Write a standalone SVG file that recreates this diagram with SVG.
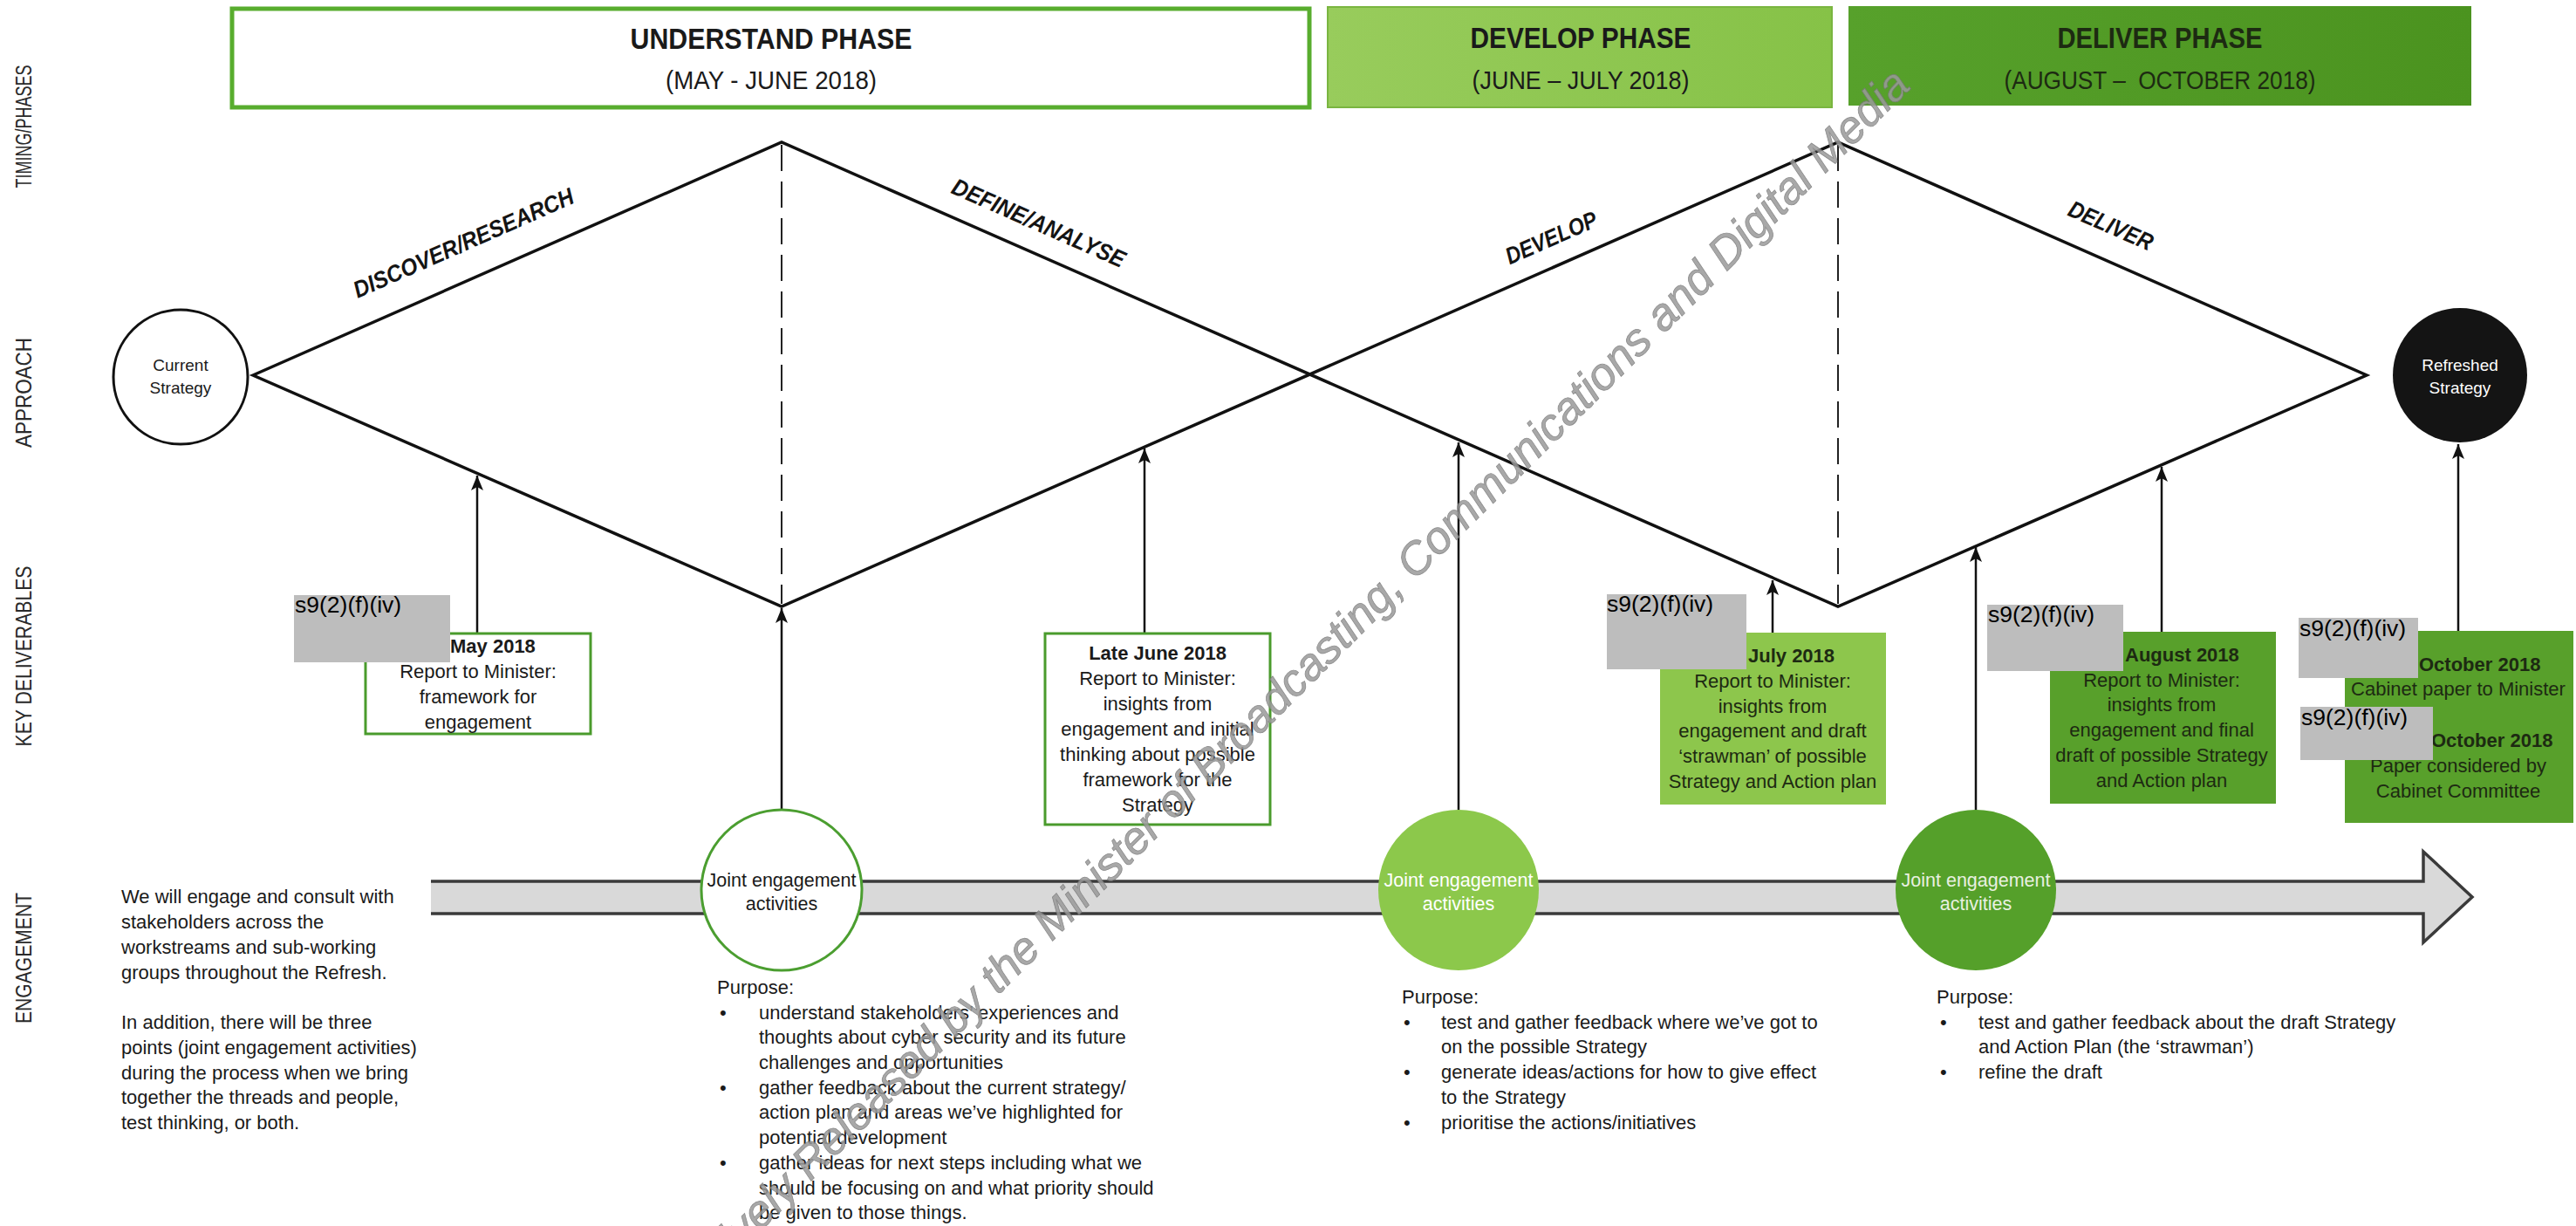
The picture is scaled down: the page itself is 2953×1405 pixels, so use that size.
<svg xmlns="http://www.w3.org/2000/svg" width="2953" height="1405" viewBox="0 0 2953 1405">
  <defs>
    <style>
      .t { font-family: "Liberation Sans", Arial, sans-serif; fill: #1a1a1a; }
      .s22 { font-size: 22px; }
      .b { font-weight: bold; }
      .c { text-anchor: middle; }
      .axis { font-size: 25px; fill: #2a2a2a; text-anchor: middle; }
      .title { font-size: 33px; font-weight: bold; text-anchor: middle; }
      .sub { font-size: 29px; text-anchor: middle; }
      .edge { fill: none; stroke: #111; stroke-width: 3.5; stroke-linejoin: miter; }
      .dash { stroke: #222; stroke-width: 2; stroke-dasharray: 30 12; }
      .elabel { font-size: 27px; font-style: italic; font-weight: bold; text-anchor: middle; fill: #141414; }
      .conn { fill: none; stroke: #111; stroke-width: 2.5; marker-end: url(#ah); }
      .redact { fill: #bdbdbd; }
      .rtext { font-family: "Liberation Sans", Arial, sans-serif; font-size: 26.5px; fill: #000; }
      .onGreen { fill: #1d2a12; }
      .wm { font-family: "Liberation Sans", Arial, sans-serif; font-size: 52px; font-style: italic; fill: #9a9a9a; stroke: #7a7a7a; stroke-width: 0.8; }
    </style>
    <marker id="ah" markerUnits="userSpaceOnUse" markerWidth="18" markerHeight="14" refX="17" refY="7" orient="auto">
      <path d="M0,0 L17,7 L0,14 L4,7 Z" fill="#111"/>
    </marker>
    <linearGradient id="gDev" x1="0" y1="0" x2="1" y2="0">
      <stop offset="0" stop-color="#98cc5c"/>
      <stop offset="1" stop-color="#86c247"/>
    </linearGradient>
    <linearGradient id="gDel" x1="0" y1="0" x2="1" y2="0">
      <stop offset="0" stop-color="#57a12b"/>
      <stop offset="1" stop-color="#4b931f"/>
    </linearGradient>
  </defs>

  <rect width="2953" height="1405" fill="#ffffff"/>

  <!-- row labels down the left side -->
  <g id="row-labels" class="t">
    <text class="axis" transform="translate(36 145) rotate(-90)" textLength="141" lengthAdjust="spacingAndGlyphs">TIMING/PHASES</text>
    <text class="axis" transform="translate(36 450) rotate(-90)" textLength="126" lengthAdjust="spacingAndGlyphs">APPROACH</text>
    <text class="axis" transform="translate(36 752) rotate(-90)" textLength="207" lengthAdjust="spacingAndGlyphs">KEY DELIVERABLES</text>
    <text class="axis" transform="translate(36 1098) rotate(-90)" textLength="150" lengthAdjust="spacingAndGlyphs">ENGAGEMENT</text>
  </g>

  <!-- phase headers -->
  <g id="phase-understand">
    <rect x="266" y="10" width="1235" height="113" fill="#ffffff" stroke="#58ad2e" stroke-width="5"/>
    <text class="t title" x="884" y="56" textLength="323" lengthAdjust="spacingAndGlyphs">UNDERSTAND PHASE</text>
    <text class="t sub" x="884" y="102" textLength="242" lengthAdjust="spacingAndGlyphs">(MAY - JUNE 2018)</text>
  </g>
  <g id="phase-develop">
    <rect x="1522" y="8" width="578" height="115" fill="url(#gDev)" stroke="#7ab540" stroke-width="2"/>
    <text class="t title" x="1812" y="55" textLength="253" lengthAdjust="spacingAndGlyphs">DEVELOP PHASE</text>
    <text class="t sub" x="1812" y="102" textLength="249" lengthAdjust="spacingAndGlyphs">(JUNE – JULY 2018)</text>
  </g>
  <g id="phase-deliver">
    <rect x="2119" y="7" width="714" height="114" fill="url(#gDel)"/>
    <text class="t title onGreen" x="2476" y="55" textLength="235" lengthAdjust="spacingAndGlyphs">DELIVER PHASE</text>
    <text class="t sub onGreen" x="2476" y="102" textLength="357" lengthAdjust="spacingAndGlyphs">(AUGUST –&#160; OCTOBER 2018)</text>
  </g>

  <!-- double diamond approach -->
  <g id="approach">
    <path class="edge" d="M290,430 L896,163 L2107,695 L2713,430 L2107,163 L896,695 Z"/>
    <line class="dash" x1="896" y1="166" x2="896" y2="692"/>
    <line class="dash" x1="2107" y1="166" x2="2107" y2="692"/>
    <text class="t elabel" transform="translate(535 287) rotate(-23.8)" textLength="273" lengthAdjust="spacingAndGlyphs">DISCOVER/RESEARCH</text>
    <text class="t elabel" transform="translate(1187 264) rotate(23.8)" textLength="214" lengthAdjust="spacingAndGlyphs">DEFINE/ANALYSE</text>
    <text class="t elabel" transform="translate(1782 281) rotate(-23.8)" textLength="112" lengthAdjust="spacingAndGlyphs">DEVELOP</text>
    <text class="t elabel" transform="translate(2416 267) rotate(23.8)" textLength="103" lengthAdjust="spacingAndGlyphs">DELIVER</text>
  </g>

  <g id="node-current-strategy">
    <circle cx="207" cy="432" r="77" fill="#ffffff" stroke="#111" stroke-width="3"/>
    <text class="t c" x="207" y="425" font-size="19">Current</text>
    <text class="t c" x="207" y="451" font-size="19">Strategy</text>
  </g>

  <g id="node-refreshed-strategy">
    <circle cx="2820" cy="430" r="77" fill="#141414"/>
    <text class="t c" x="2820" y="425" font-size="19" style="fill:#ffffff">Refreshed</text>
    <text class="t c" x="2820" y="451" font-size="19" style="fill:#ffffff">Strategy</text>
  </g>

  <!-- engagement timeline band -->
  <g id="engagement-band">
    <path d="M494,1010 H2778 V976 L2834,1028 L2778,1080 V1047 H494 Z" fill="#d9d9d9"/>
    <path d="M494,1010 H2778 V976 L2834,1028 L2778,1080 V1047 H494" fill="none" stroke="#3a3a3a" stroke-width="3.5"/>
  </g>

  <!-- arrows feeding the approach -->
  <g id="connectors">
    <line class="conn" x1="547" y1="726" x2="547" y2="545"/>
    <line class="conn" x1="896" y1="928" x2="896" y2="697"/>
    <line class="conn" x1="1312" y1="726" x2="1312" y2="514"/>
    <line class="conn" x1="1672" y1="928" x2="1672" y2="507"/>
    <line class="conn" x1="2032" y1="725" x2="2032" y2="665"/>
    <line class="conn" x1="2265" y1="928" x2="2265" y2="627"/>
    <line class="conn" x1="2478" y1="724" x2="2478" y2="535"/>
    <line class="conn" x1="2818" y1="723" x2="2818" y2="509"/>
  </g>

  <!-- joint engagement points -->
  <g id="node-joint-1">
    <circle cx="896" cy="1020" r="92" fill="#ffffff" stroke="#4b9e30" stroke-width="3"/>
    <text class="t c" x="896" y="1016" font-size="21.5">Joint engagement</text>
    <text class="t c" x="896" y="1043" font-size="21.5">activities</text>
  </g>
  <g id="node-joint-2">
    <circle cx="1672" cy="1020" r="92" fill="#8cc84b"/>
    <text class="t c" x="1672" y="1016" font-size="21.5" style="fill:#ffffff">Joint engagement</text>
    <text class="t c" x="1672" y="1043" font-size="21.5" style="fill:#ffffff">activities</text>
  </g>
  <g id="node-joint-3">
    <circle cx="2265" cy="1020" r="92" fill="#55a02a"/>
    <text class="t c" x="2265" y="1016" font-size="21.5" style="fill:#e8f0e0">Joint engagement</text>
    <text class="t c" x="2265" y="1043" font-size="21.5" style="fill:#e8f0e0">activities</text>
  </g>

  <!-- key deliverables -->
  <g id="deliverable-may" class="t s22">
    <rect x="419" y="726" width="258" height="115" fill="#ffffff" stroke="#4a9b2c" stroke-width="3"/>
    <text class="b" x="516" y="748">May 2018</text>
    <text class="c" x="548" y="777">Report to Minister:</text>
    <text class="c" x="548" y="806">framework for</text>
    <text class="c" x="548" y="835">engagement</text>
  </g>
  <g id="deliverable-late-june" class="t s22">
    <rect x="1198" y="726" width="258" height="219" fill="#ffffff" stroke="#4a9b2c" stroke-width="3"/>
    <text class="c b" x="1327" y="756">Late June 2018</text>
    <text class="c" x="1327" y="785">Report to Minister:</text>
    <text class="c" x="1327" y="814">insights from</text>
    <text class="c" x="1327" y="843">engagement and initial</text>
    <text class="c" x="1327" y="872">thinking about possible</text>
    <text class="c" x="1327" y="901">framework for the</text>
    <text class="c" x="1327" y="930">Strategy</text>
  </g>
  <g id="deliverable-july" class="t s22">
    <rect x="1903" y="725" width="259" height="197" fill="#8dc64c"/>
    <text class="b onGreen" x="2004" y="759">July 2018</text>
    <text class="c onGreen" x="2032" y="788">Report to Minister:</text>
    <text class="c onGreen" x="2032" y="817">insights from</text>
    <text class="c onGreen" x="2032" y="845">engagement and draft</text>
    <text class="c onGreen" x="2032" y="874">‘strawman’ of possible</text>
    <text class="c onGreen" x="2032" y="903">Strategy and Action plan</text>
  </g>
  <g id="deliverable-august" class="t s22">
    <rect x="2350" y="724" width="259" height="197" fill="#58a02b"/>
    <text class="b onGreen" x="2436" y="758">August 2018</text>
    <text class="c onGreen" x="2478" y="787">Report to Minister:</text>
    <text class="c onGreen" x="2478" y="815">insights from</text>
    <text class="c onGreen" x="2478" y="844">engagement and final</text>
    <text class="c onGreen" x="2478" y="873">draft of possible Strategy</text>
    <text class="c onGreen" x="2478" y="902">and Action plan</text>
  </g>
  <g id="deliverable-october" class="t s22">
    <rect x="2688" y="723" width="262" height="220" fill="#58a02b"/>
    <text class="b onGreen" x="2773" y="769">October 2018</text>
    <text class="c onGreen" x="2818" y="797">Cabinet paper to Minister</text>
    <text class="b onGreen" x="2787" y="856">October 2018</text>
    <text class="c onGreen" x="2818" y="885">Paper considered by</text>
    <text class="c onGreen" x="2818" y="914">Cabinet Committee</text>
  </g>

  <!-- withheld-information blocks -->
  <g id="redactions">
    <rect class="redact" x="337" y="682" width="179" height="77"/>
    <text class="rtext" x="338" y="702">s9(2)(f)(iv)</text>
    <rect class="redact" x="1842" y="681" width="160" height="86"/>
    <text class="rtext" x="1842" y="701">s9(2)(f)(iv)</text>
    <rect class="redact" x="2278" y="693" width="156" height="76"/>
    <text class="rtext" x="2279" y="713">s9(2)(f)(iv)</text>
    <rect class="redact" x="2635" y="708" width="137" height="69"/>
    <text class="rtext" x="2636" y="729">s9(2)(f)(iv)</text>
    <rect class="redact" x="2637" y="810" width="152" height="61"/>
    <text class="rtext" x="2638" y="831">s9(2)(f)(iv)</text>
  </g>

  <!-- engagement notes -->
  <g id="engagement-intro" class="t s22">
    <text x="139" y="1035">We will engage and consult with</text>
    <text x="139" y="1064">stakeholders across the</text>
    <text x="139" y="1093">workstreams and sub-working</text>
    <text x="139" y="1122">groups throughout the Refresh.</text>
    <text x="139" y="1179">In addition, there will be three</text>
    <text x="139" y="1208">points (joint engagement activities)</text>
    <text x="139" y="1237">during the process when we bring</text>
    <text x="139" y="1265">together the threads and people,</text>
    <text x="139" y="1294">test thinking, or both.</text>
  </g>

  <g id="purpose-understand" class="t s22">
    <text x="822" y="1139">Purpose:</text>
    <text x="825" y="1168">•</text>
    <text x="870" y="1168">understand stakeholders’ experiences and</text>
    <text x="870" y="1196">thoughts about cyber security and its future</text>
    <text x="870" y="1225">challenges and opportunities</text>
    <text x="825" y="1254">•</text>
    <text x="870" y="1254">gather feedback about the current strategy/</text>
    <text x="870" y="1282">action plan and areas we’ve highlighted for</text>
    <text x="870" y="1311">potential development</text>
    <text x="825" y="1340">•</text>
    <text x="870" y="1340">gather ideas for next steps including what we</text>
    <text x="870" y="1369">should be focusing on and what priority should</text>
    <text x="870" y="1397">be given to those things.</text>
  </g>

  <g id="purpose-develop" class="t s22">
    <text x="1607" y="1150">Purpose:</text>
    <text x="1609" y="1179">•</text>
    <text x="1652" y="1179">test and gather feedback where we’ve got to</text>
    <text x="1652" y="1207">on the possible Strategy</text>
    <text x="1609" y="1236">•</text>
    <text x="1652" y="1236">generate ideas/actions for how to give effect</text>
    <text x="1652" y="1265">to the Strategy</text>
    <text x="1609" y="1294">•</text>
    <text x="1652" y="1294">prioritise the actions/initiatives</text>
  </g>

  <g id="purpose-deliver" class="t s22">
    <text x="2220" y="1150">Purpose:</text>
    <text x="2224" y="1179">•</text>
    <text x="2268" y="1179">test and gather feedback about the draft Strategy</text>
    <text x="2268" y="1207">and Action Plan (the ‘strawman’)</text>
    <text x="2224" y="1236">•</text>
    <text x="2268" y="1236">refine the draft</text>
  </g>

  <!-- release stamp across the sheet -->
  <g id="release-stamp" opacity="0.85">
    <text class="wm" text-anchor="end" transform="translate(2192 100) rotate(-44.8)">Proactively Released by the Minister of Broadcasting, Communications and Digital Media</text>
  </g>
</svg>
